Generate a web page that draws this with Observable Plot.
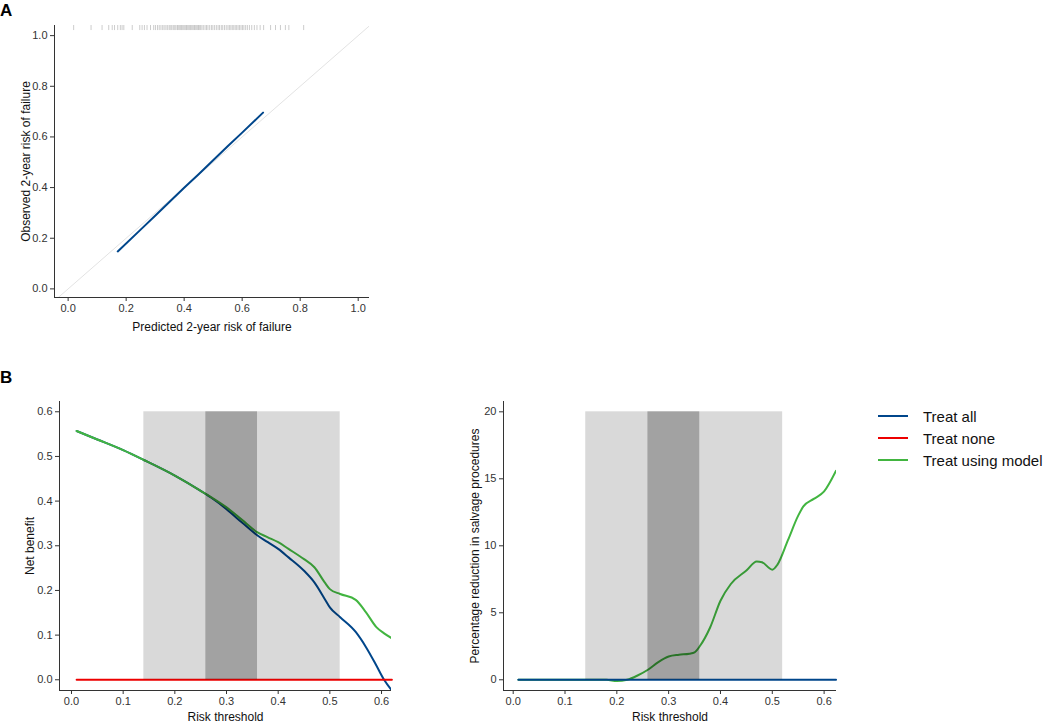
<!DOCTYPE html>
<html>
<head>
<meta charset="utf-8">
<script src="https://cdn.jsdelivr.net/npm/d3@7"></script>
<script src="https://cdn.jsdelivr.net/npm/@observablehq/plot@0.6"></script>
<style>
  body { margin: 0; background: #fff; font-family: "Liberation Sans", Arial, Helvetica, sans-serif; }
  #root { position: relative; width: 1050px; height: 724px; overflow: hidden; background: #fff; }
  .panel { position: absolute; }
  .letter { position: absolute; font-weight: bold; font-size: 17px; color: #000; line-height: 1; }
  .legend { position: absolute; left: 878px; top: 405px; font-size: 15px; color: #111; }
  .item { display: flex; align-items: center; height: 22px; }
  .item svg { margin-right: 15px; }
</style>
</head>
<body>
<div id="root">
  <div class="letter" style="left:0px;top:2px;">A</div>
  <div class="letter" style="left:0px;top:369px;">B</div>
  <div id="panelA" class="panel" style="left:0px;top:0px;"></div>
  <div id="panelB1" class="panel" style="left:0px;top:360px;"></div>
  <div id="panelB2" class="panel" style="left:440px;top:360px;"></div>
  <div id="legend" class="legend"></div>
</div>
<script>
// ---------- data ----------
// Panel A: calibration
const calPredicted = [0.171, 0.25, 0.30, 0.35, 0.40, 0.45, 0.50, 0.55, 0.60, 0.672];
const calObserved  = [0.148, 0.234, 0.289, 0.344, 0.399, 0.453, 0.508, 0.563, 0.617, 0.696];
const rugPredicted = [0.019, 0.079, 0.117, 0.140, 0.152, 0.160, 0.171, 0.180, 0.186, 0.192, 0.221, 0.247,
  0.255, 0.263, 0.272, 0.284, 0.295, 0.301, 0.308, 0.314, 0.320, 0.326, 0.331, 0.337, 0.342, 0.348,
  0.352, 0.357, 0.362, 0.366, 0.371, 0.376, 0.379, 0.383, 0.387, 0.391, 0.395, 0.399, 0.403, 0.407,
  0.410, 0.414, 0.418, 0.422, 0.426, 0.430, 0.434, 0.437, 0.441, 0.445, 0.449, 0.452, 0.456, 0.461,
  0.466, 0.472, 0.477, 0.482, 0.488, 0.494, 0.499, 0.505, 0.511, 0.517, 0.522, 0.528, 0.533, 0.539,
  0.545, 0.551, 0.556, 0.561, 0.566, 0.571, 0.576, 0.581, 0.586, 0.591, 0.596, 0.601, 0.606, 0.612,
  0.618, 0.625, 0.633, 0.642, 0.651, 0.662, 0.674, 0.698, 0.715, 0.732, 0.749, 0.761, 0.812];
const refLine = [-0.05, 1.05];

// Panel B left: net benefit
const nbThreshold = [0.01, 0.05, 0.10, 0.14, 0.20, 0.25, 0.27, 0.30, 0.33, 0.36, 0.38, 0.40, 0.42,
  0.45, 0.47, 0.49, 0.50, 0.52, 0.55, 0.57, 0.59, 0.605, 0.62];
const nbTreatAll = [0.557, 0.538, 0.514, 0.492, 0.457, 0.423, 0.408, 0.382, 0.352, 0.323, 0.308, 0.293,
  0.274, 0.244, 0.218, 0.181, 0.162, 0.140, 0.107, 0.073, 0.032, 0.0, -0.024];
const nbModel = [0.557, 0.538, 0.514, 0.492, 0.457, 0.423, 0.409, 0.386, 0.358, 0.330, 0.319, 0.308,
  0.293, 0.270, 0.252, 0.218, 0.203, 0.192, 0.179, 0.151, 0.118, 0.104, 0.093];
const noneThreshold = [0.01, 0.62];
const nbTreatNone = [0, 0];

// Panel B right: percentage reduction in salvage procedures
const redThreshold = [0.01, 0.10, 0.18, 0.20, 0.22, 0.24, 0.26, 0.28, 0.30, 0.32, 0.34, 0.35, 0.36,
  0.38, 0.40, 0.42, 0.45, 0.47, 0.48, 0.50, 0.51, 0.53, 0.55, 0.56, 0.58, 0.60, 0.623];
const redModel = [0, 0, 0, -0.1, 0, 0.32, 0.75, 1.32, 1.74, 1.87, 1.95, 2.05, 2.5,
  3.9, 5.9, 7.15, 8.15, 8.82, 8.77, 8.22, 8.6, 10.4, 12.25, 12.94, 13.5, 14.06, 15.6];
const redAllThreshold = [0.01, 0.623];
const redTreatAll = [0, 0];

// shaded threshold bands
const bandOuter = [0.14, 0.52];
const bandInner = [0.26, 0.36];

// ticks
const ticksA = [0, 0.2, 0.4, 0.6, 0.8, 1.0];
const ticksThreshold = [0, 0.1, 0.2, 0.3, 0.4, 0.5, 0.6];
const ticksNB = [0, 0.1, 0.2, 0.3, 0.4, 0.5, 0.6];
const ticksRed = [0, 5, 10, 15, 20];

const seriesNames = ["Treat all", "Treat none", "Treat using model"];
const seriesColors = ["#00468B", "#ED0000", "#42B540"];

// ---------- helpers ----------
const font = '"Liberation Sans", Arial, Helvetica, sans-serif';
const style = { fontFamily: font, fontSize: "11px", color: "#333", background: "transparent", overflow: "visible" };
const zip = (xs, ys) => xs.map((x, i) => ({ x, y: ys[i] }));
const fmt1 = d3.format(".1f");
const axisCommon = { tickSize: 4, tickPadding: 3, label: null, stroke: "#333", fill: "#333" };
const xTitle = (t, dy) => Plot.text([t], { frameAnchor: "bottom", textAnchor: "middle", lineAnchor: "middle", dy, fontSize: 12, fill: "#111" });
const yTitle = (t, dx) => Plot.text([t], { frameAnchor: "left", textAnchor: "middle", lineAnchor: "middle", rotate: -90, dx, fontSize: 12, fill: "#111" });

// ---------- Panel A ----------
const xDomA = [-0.047, 1.039], yDomA = [-0.034, 1.04];
const plotA = Plot.plot({
  width: 380, height: 340,
  marginLeft: 54, marginRight: 11, marginTop: 25, marginBottom: 43,
  x: { domain: xDomA }, y: { domain: yDomA },
  style,
  marks: [
    Plot.line(zip(refLine, refLine), { x: "x", y: "y", stroke: "#e3e3e3", strokeWidth: 1, clip: true }),
    Plot.ruleX(rugPredicted, { x: d => d, y1: 1.04, y2: 1.02, stroke: "#000", strokeOpacity: 0.2, strokeWidth: 1 }),
    Plot.line(zip(calPredicted, calObserved), { x: "x", y: "y", stroke: seriesColors[0], strokeWidth: 2 }),
    Plot.ruleX([xDomA[0]], { stroke: "#333", strokeWidth: 1 }),
    Plot.ruleY([yDomA[0]], { stroke: "#333", strokeWidth: 1 }),
    Plot.axisX(ticksA, { ...axisCommon, tickFormat: fmt1 }),
    Plot.axisY(ticksA, { ...axisCommon, tickFormat: fmt1 }),
    xTitle("Predicted 2-year risk of failure", 30),
    yTitle("Observed 2-year risk of failure", -28)
  ]
});
document.getElementById("panelA").appendChild(plotA);

// ---------- Panel B left ----------
const xDomB1 = [-0.0232, 0.6193], yDomB1 = [-0.024, 0.623];
const plotB1 = Plot.plot({
  width: 420, height: 364,
  marginLeft: 59, marginRight: 29, marginTop: 41, marginBottom: 34,
  x: { domain: xDomB1 }, y: { domain: yDomB1 },
  style,
  marks: [
    Plot.line(zip(nbThreshold, nbTreatAll), { x: "x", y: "y", stroke: seriesColors[0], strokeWidth: 2, curve: "monotone-x", clip: true }),
    Plot.line(zip(nbThreshold, nbModel), { x: "x", y: "y", stroke: seriesColors[2], strokeWidth: 2, curve: "monotone-x", clip: true }),
    Plot.line(zip(noneThreshold, nbTreatNone), { x: "x", y: "y", stroke: seriesColors[1], strokeWidth: 2 }),
    Plot.rect([{ x1: bandOuter[0], x2: bandOuter[1], y1: 0, y2: 0.6 }], { x1: "x1", x2: "x2", y1: "y1", y2: "y2", fill: "#000", fillOpacity: 0.15 }),
    Plot.rect([{ x1: bandInner[0], x2: bandInner[1], y1: 0, y2: 0.6 }], { x1: "x1", x2: "x2", y1: "y1", y2: "y2", fill: "#000", fillOpacity: 0.25 }),
    Plot.ruleX([xDomB1[0]], { stroke: "#333", strokeWidth: 1 }),
    Plot.ruleY([yDomB1[0]], { stroke: "#333", strokeWidth: 1 }),
    Plot.axisX(ticksThreshold, { ...axisCommon, tickFormat: fmt1 }),
    Plot.axisY(ticksNB, { ...axisCommon, tickFormat: fmt1 }),
    xTitle("Risk threshold", 27),
    yTitle("Net benefit", -29)
  ]
});
document.getElementById("panelB1").appendChild(plotB1);

// ---------- Panel B right ----------
const xDomB2 = [-0.0187, 0.6239], yDomB2 = [-0.8, 20.77];
const plotB2 = Plot.plot({
  width: 420, height: 364,
  marginLeft: 63, marginRight: 24, marginTop: 41, marginBottom: 34,
  x: { domain: xDomB2 }, y: { domain: yDomB2 },
  style,
  marks: [
    Plot.line(zip(redThreshold, redModel), { x: "x", y: "y", stroke: seriesColors[2], strokeWidth: 2, curve: "monotone-x", clip: true }),
    Plot.line(zip(redAllThreshold, redTreatAll), { x: "x", y: "y", stroke: seriesColors[0], strokeWidth: 2 }),
    Plot.rect([{ x1: bandOuter[0], x2: bandOuter[1], y1: 0, y2: 20 }], { x1: "x1", x2: "x2", y1: "y1", y2: "y2", fill: "#000", fillOpacity: 0.15 }),
    Plot.rect([{ x1: bandInner[0], x2: bandInner[1], y1: 0, y2: 20 }], { x1: "x1", x2: "x2", y1: "y1", y2: "y2", fill: "#000", fillOpacity: 0.25 }),
    Plot.ruleX([xDomB2[0]], { stroke: "#333", strokeWidth: 1 }),
    Plot.ruleY([yDomB2[0]], { stroke: "#333", strokeWidth: 1 }),
    Plot.axisX(ticksThreshold, { ...axisCommon, tickFormat: fmt1 }),
    Plot.axisY(ticksRed, { ...axisCommon, tickFormat: d3.format("d") }),
    xTitle("Risk threshold", 27),
    yTitle("Percentage reduction in salvage procedures", -28)
  ]
});
document.getElementById("panelB2").appendChild(plotB2);

// ---------- Legend ----------
const legend = document.getElementById("legend");
seriesNames.forEach((name, i) => {
  const item = document.createElement("div");
  item.className = "item";
  item.innerHTML = `<svg width="30" height="4"><line x1="0" x2="30" y1="2" y2="2" stroke="${seriesColors[i]}" stroke-width="2"/></svg><span>${name}</span>`;
  legend.appendChild(item);
});
</script>
</body>
</html>
